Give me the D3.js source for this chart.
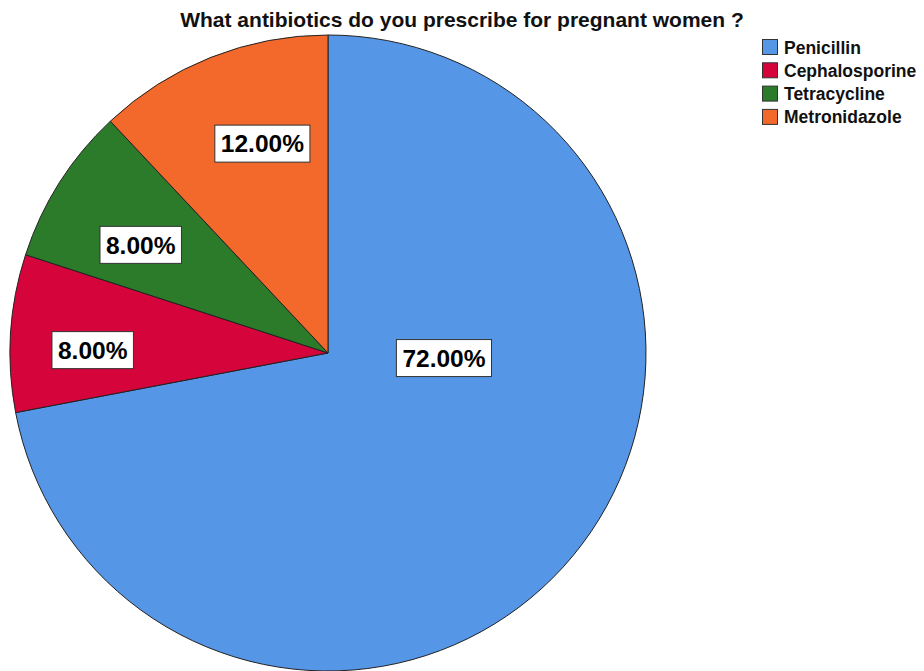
<!DOCTYPE html>
<html><head><meta charset="utf-8">
<script src="https://cdn.jsdelivr.net/npm/d3@7/dist/d3.min.js"></script>
<style>body{margin:0;background:#fff;}svg{display:block;font-family:"Liberation Sans",Arial,sans-serif;}</style>
</head><body>
<svg id="c" width="924" height="671"></svg>
<script>
const categories = ["Penicillin", "Cephalosporine", "Tetracycline", "Metronidazole"];
const percentValues = [72, 8, 8, 12];
const sliceColors = ["#5596E6", "#D5053C", "#2B7B2B", "#F2692B"];
const titleText = "What antibiotics do you prescribe for pregnant women ?";

// layout settings
const cx = 328, cy = 353, R = 318;
const labelLayout = [ {ang: 92.5, rf: 0.365}, {ang: 270.7, rf: 0.74}, {ang: 300, rf: 0.68}, {ang: 342.6, rf: 0.69} ];

const svg = d3.select("#c");
svg.append("text").attr("x", 462).attr("y", 27).attr("text-anchor", "middle")
  .attr("font-size", 21).attr("font-weight", "bold").attr("fill", "#111").text(titleText);

const data = categories.map((c, i) => ({name: c, value: percentValues[i], color: sliceColors[i]}));
const pie = d3.pie().value(d => d.value).sort(null);
const arc = d3.arc().innerRadius(0).outerRadius(R);
const g = svg.append("g").attr("transform", `translate(${cx},${cy})`);
const arcs = pie(data);
g.selectAll("path").data(arcs).join("path")
  .attr("d", arc).attr("fill", d => d.data.color)
  .attr("stroke", "#222").attr("stroke-width", 1);

arcs.forEach((a, i) => {
  const L = labelLayout[i];
  const t = L.ang * Math.PI / 180;
  const x = Math.sin(t) * R * L.rf, y = -Math.cos(t) * R * L.rf;
  const lg = g.append("g").attr("transform", `translate(${x},${y})`);
  const rect = lg.append("rect");
  const tx = lg.append("text").attr("text-anchor", "middle").attr("dy", "0.36em")
    .attr("font-size", 24.5).attr("font-weight", "bold").attr("fill", "#000")
    .text(d3.format(".2f")(a.data.value) + "%");
  const w = tx.node().getComputedTextLength();
  rect.attr("x", -w/2 - 6).attr("y", -18.5).attr("width", w + 12).attr("height", 37)
    .attr("fill", "#fff").attr("stroke", "#333").attr("stroke-width", 1);
});

const leg = svg.append("g").attr("transform", "translate(762,39)");
data.forEach((d, i) => {
  const row = leg.append("g").attr("transform", `translate(0,${i * 23.3})`);
  row.append("rect").attr("x", 0.5).attr("y", 0.5).attr("width", 15).attr("height", 15)
    .attr("fill", d.color).attr("stroke", "#333").attr("stroke-width", 1);
  row.append("text").attr("x", 22).attr("y", 14.5).attr("font-size", 17.5).attr("font-weight", "bold")
    .attr("fill", "#111").text(d.name);
});
</script>
</body></html>
